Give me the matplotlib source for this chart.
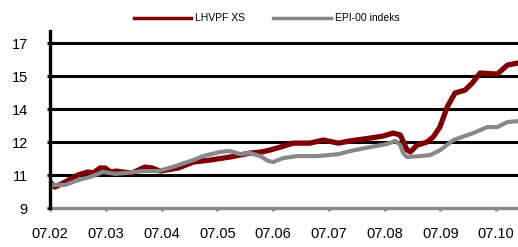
import matplotlib
matplotlib.use("Agg")
import matplotlib.pyplot as plt

plt.rcParams['font.family'] = ['Liberation Sans', 'DejaVu Sans']

# x = months since 07.02
kuud = ["07.02", "07.03", "07.04", "07.05", "07.06", "07.07", "07.08", "07.09", "07.10"]
y_ticks = [9.5, 11.0, 12.5, 14.0, 15.5, 17.0]
y_labels = ["9", "11", "12", "14", "15", "17"]

lhv_x = [0.00, 0.09, 0.27, 0.50, 0.68, 0.77, 0.90, 0.99, 1.08, 1.20, 1.29, 1.47, 1.70, 1.83,
         1.97, 2.30, 2.57, 2.87, 3.23, 3.59, 3.80, 3.95, 4.13, 4.36, 4.66, 4.90, 5.17, 5.38,
         5.74, 5.97, 6.15, 6.28, 6.40, 6.46, 6.58, 6.76, 6.87, 6.99, 7.12, 7.26, 7.44, 7.57,
         7.71, 8.02, 8.20, 8.38]
lhv_y = [10.68, 10.45, 10.68, 11.00, 11.14, 11.09, 11.32, 11.32, 11.14, 11.18, 11.14, 11.09, 11.36, 11.32,
         11.18, 11.32, 11.59, 11.68, 11.82, 12.00, 12.05, 12.14, 12.27, 12.45, 12.45, 12.59, 12.45, 12.55,
         12.68, 12.77, 12.91, 12.82, 12.14, 12.05, 12.36, 12.50, 12.73, 13.18, 14.09, 14.73, 14.86, 15.18,
         15.64, 15.59, 16.00, 16.09]

epi_x = [0.00, 0.27, 0.50, 0.72, 0.81, 0.95, 1.17, 1.35, 1.65, 1.94, 2.19, 2.57, 2.74, 3.05,
         3.23, 3.41, 3.59, 3.77, 3.91, 4.00, 4.18, 4.43, 4.79, 5.17, 5.38, 5.74, 6.04, 6.19,
         6.28, 6.33, 6.40, 6.64, 6.82, 7.00, 7.23, 7.59, 7.84, 8.02, 8.20, 8.38]
epi_y = [10.55, 10.55, 10.77, 10.91, 11.00, 11.14, 11.05, 11.09, 11.18, 11.18, 11.36, 11.68, 11.86, 12.05,
         12.09, 11.95, 12.00, 11.86, 11.64, 11.59, 11.77, 11.86, 11.86, 11.95, 12.09, 12.27, 12.41, 12.55,
         12.36, 12.00, 11.82, 11.86, 11.91, 12.14, 12.59, 12.91, 13.18, 13.18, 13.41, 13.45]

fig = plt.figure(figsize=(5.18, 2.47), dpi=100)
ax = fig.add_axes([50 / 518, 39 / 247, 468 / 518, 177 / 247])

for yv in y_ticks[1:]:
    ax.axhline(yv, color="black", lw=2.2, zorder=1)

ax.plot(lhv_x, lhv_y, color="#800000", lw=3.8, label="LHVPF XS", zorder=3)
ax.plot(epi_x, epi_y, color="#888888", lw=3.0, label="EPI-00 indeks", zorder=4)

ax.set_xlim(0, 8.39)
ax.set_ylim(9.5, 17.55)
ax.set_xticks(range(len(kuud)))
ax.set_xticklabels(kuud)
ax.set_yticks(y_ticks)
ax.set_yticklabels(y_labels)

for s in ["top", "right"]:
    ax.spines[s].set_visible(False)
ax.spines["left"].set_linewidth(2.4)
ax.spines["left"].set_color("black")
ax.spines["bottom"].set_linewidth(2.4)
ax.spines["bottom"].set_color("#888888")
ax.spines["left"].set_zorder(5)

ax.tick_params(axis="x", length=2, width=2, color="#888888", pad=12, labelsize=10.5)
ax.tick_params(axis="y", length=2, width=2, color="black", pad=14, labelsize=10.5)

leg = fig.legend(loc="upper center", bbox_to_anchor=(0.515, 0.984), ncol=2, frameon=False,
                 fontsize=7.5, handlelength=5.5, columnspacing=2.7, handletextpad=0.4)
for line in leg.get_lines():
    line.set_linewidth(2.5)

fig.savefig("out.png", dpi=100)
